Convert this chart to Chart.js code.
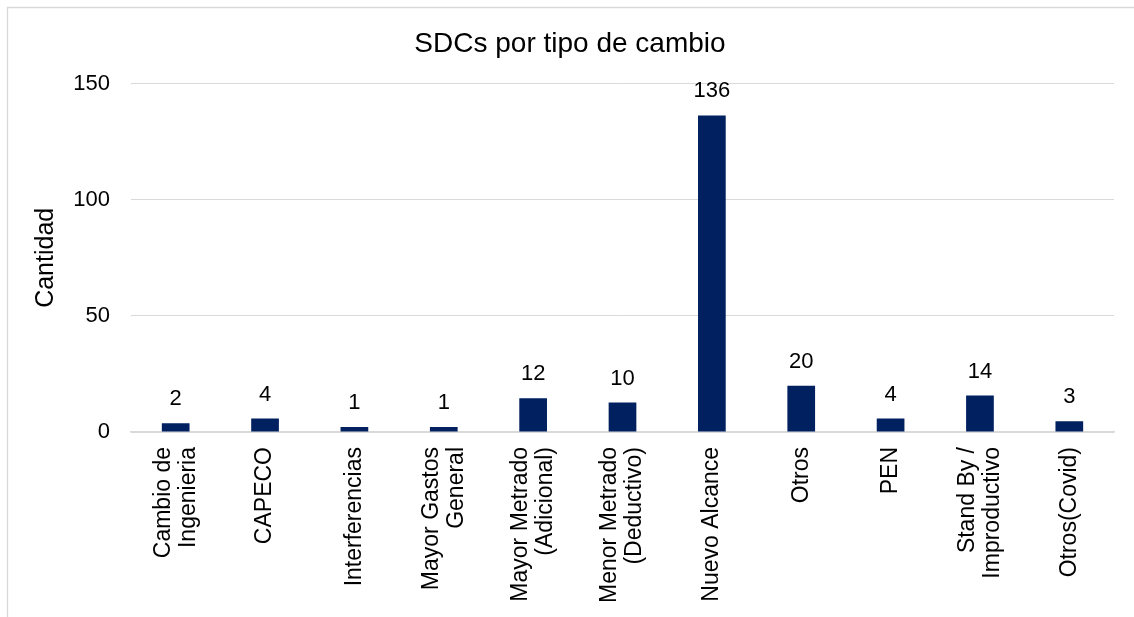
<!DOCTYPE html>
<html>
<head>
<meta charset="utf-8">
<script src="https://cdn.jsdelivr.net/npm/chart.js@4.4.0/dist/chart.umd.min.js"></script>
<style>
  html, body { margin: 0; padding: 0; background: #ffffff; }
  #wrap { position: relative; width: 1134px; height: 617px; }
</style>
</head>
<body>
<div id="wrap"><canvas id="c" width="1134" height="617"></canvas></div>
<script>
const categories = [
  ["Cambio de", "Ingenieria"],
  ["CAPECO"],
  ["Interferencias"],
  ["Mayor Gastos", "General"],
  ["Mayor Metrado", "(Adicional)"],
  ["Menor Metrado", "(Deductivo)"],
  ["Nuevo Alcance"],
  ["Otros"],
  ["PEN"],
  ["Stand By /", "Improductivo"],
  ["Otros(Covid)"]
];
// bar heights as drawn in the picture
const barValues = [3.8, 5.8, 2.2, 2.2, 14.5, 12.7, 136.3, 19.9, 5.8, 15.7, 4.6];
// data label texts as printed above the bars
const dataLabels = ["2", "4", "1", "1", "12", "10", "136", "20", "4", "14", "3"];
const yTicks = [0, 50, 100, 150];

const FONT = '"Liberation Sans", Arial, Helvetica, sans-serif';

const frame = {
  id: 'frame',
  beforeDraw(chart) {
    const ctx = chart.ctx;
    ctx.save();
    ctx.fillStyle = '#ffffff';
    ctx.fillRect(0, 0, chart.width, chart.height);
    ctx.strokeStyle = '#d9d9d9';
    ctx.lineWidth = 1.3;
    ctx.beginPath();
    ctx.moveTo(7.5, chart.height);
    ctx.lineTo(7.5, 7.5);
    ctx.lineTo(chart.width, 7.5);
    ctx.stroke();
    ctx.restore();
  }
};

const valueLabels = {
  id: 'valueLabels',
  afterDatasetsDraw(chart) {
    const ctx = chart.ctx;
    const meta = chart.getDatasetMeta(0);
    ctx.save();
    ctx.font = '22px ' + FONT;
    ctx.fillStyle = '#000000';
    ctx.textAlign = 'center';
    ctx.textBaseline = 'middle';
    meta.data.forEach((bar, i) => {
      ctx.fillText(dataLabels[i], bar.x, bar.y - 24);
    });
    ctx.restore();
  }
};

const catLabels = {
  id: 'catLabels',
  afterDraw(chart) {
    const ctx = chart.ctx;
    const xs = chart.scales.x;
    const top = chart.chartArea.bottom + 15;
    const lh = 25;
    ctx.save();
    ctx.font = '23px ' + FONT;
    ctx.fillStyle = '#000000';
    ctx.textAlign = 'right';
    ctx.textBaseline = 'middle';
    xs.ticks.forEach((t, i) => {
      const x = xs.getPixelForTick(i);
      const lines = categories[i];
      ctx.save();
      ctx.translate(x, top);
      ctx.rotate(-Math.PI / 2);
      lines.forEach((ln, j) => {
        ctx.fillText(ln, 0, (j - (lines.length - 1) / 2) * lh);
      });
      ctx.restore();
    });
    ctx.restore();
  }
};

new Chart(document.getElementById('c'), {
  type: 'bar',
  data: {
    labels: categories,
    datasets: [{
      data: barValues,
      backgroundColor: '#002060',
      borderWidth: 0,
      barPercentage: 0.31,
      categoryPercentage: 1.0
    }]
  },
  options: {
    responsive: false,
    animation: false,
    devicePixelRatio: 1,
    layout: { padding: { left: 26, right: 20, top: 0, bottom: 0 } },
    plugins: {
      legend: { display: false },
      tooltip: { enabled: false },
      title: {
        display: true,
        text: 'SDCs por tipo de cambio',
        color: '#000000',
        font: { family: FONT, size: 28, weight: 'normal' },
        padding: { top: 27, bottom: 23 }
      }
    },
    scales: {
      x: {
        grid: { display: false, drawTicks: false },
        border: { display: true, color: '#d9d9d9', width: 1.5 },
        ticks: {
          color: 'rgba(0,0,0,0)',
          autoSkip: false,
          maxRotation: 90,
          minRotation: 90,
          font: { family: FONT, size: 23 }
        },
        afterFit(s) { s.height = 185; }
      },
      y: {
        min: 0,
        max: 150,
        afterBuildTicks(s) { s.ticks = yTicks.map(v => ({ value: v })); },
        grid: { color: '#d9d9d9', lineWidth: 1, drawTicks: false },
        border: { display: false },
        ticks: {
          color: '#000000',
          padding: 21,
          font: { family: FONT, size: 22 }
        },
        title: {
          display: true,
          text: 'Cantidad',
          color: '#000000',
          font: { family: FONT, size: 25, weight: 'normal' },
          padding: { top: 5, bottom: 0 }
        },
        afterFit(s) { s.width = 105; }
      }
    }
  },
  plugins: [frame, valueLabels, catLabels]
});
</script>
</body>
</html>
